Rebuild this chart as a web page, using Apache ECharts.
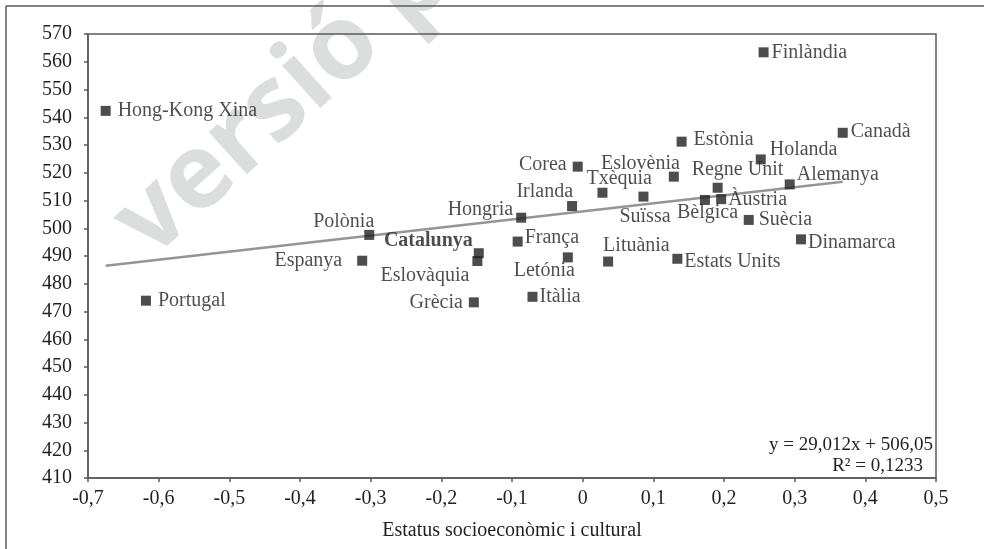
<!DOCTYPE html>
<html><head><meta charset="utf-8">
<script src="https://cdn.jsdelivr.net/npm/echarts@6/dist/echarts.min.js"></script>
<style>html,body{margin:0;padding:0;background:#fff}#c{width:984px;height:549px}</style>
</head><body><div id="c"></div>
<script>
// ---- data ----
const countries = ['Hong-Kong Xina','Portugal','Polònia','Espanya','Catalunya','Eslovàquia','Grècia','Hongria','França','Irlanda','Corea','Letónia','Itàlia','Txèquia','Lituània','Suïssa','Finlàndia','Canadà','Estònia','Holanda','Eslovènia','Regne Unit','Alemanya','Bèlgica','Àustria','Suècia','Dinamarca','Estats Units'];
const statusESCS = [-0.675,-0.618,-0.302,-0.312,-0.147,-0.149,-0.154,-0.087,-0.092,-0.015,-0.007,-0.021,-0.071,0.028,0.036,0.086,0.256,0.368,0.140,0.252,0.129,0.191,0.293,0.173,0.196,0.235,0.309,0.134];
const scores = [542.3,473.9,497.6,488.3,491.0,488.2,473.3,503.8,495.2,508.0,522.2,489.5,475.3,512.8,488.0,511.4,563.4,534.4,531.2,524.8,518.6,514.6,515.8,510.2,510.5,503.0,496.0,489.0];
const trendSlope = 29.012;
const trendIntercept = 506.05;
const trendR2 = 0.1233;
const xAxisTitle = 'Estatus socioeconòmic i cultural';

// ---- label placement (style) : [dx, dy, align] relative to marker centre ----
const labelPlace = {
 'Hong-Kong Xina':[12,0,'left'], 'Portugal':[12,0,'left'], 'Polònia':[5,-13,'right'],
 'Espanya':[-20,0,'right'], 'Catalunya':[-6,-12,'right'], 'Eslovàquia':[-8,15,'right'],
 'Grècia':[-11,0,'right'], 'Hongria':[-8,-8,'right'], 'França':[7,-4,'left'],
 'Irlanda':[1,-14,'right'], 'Corea':[-11,-2,'right'], 'Letónia':[7,13,'right'],
 'Itàlia':[7,0,'left'], 'Txèquia':[-16,-14,'left'], 'Lituània':[-5,-16,'left'],
 'Suïssa':[-24,20,'left'], 'Finlàndia':[8,0,'left'], 'Canadà':[8,-1,'left'],
 'Estònia':[12,-2,'left'], 'Holanda':[9,-10,'left'], 'Eslovènia':[6,-13,'right'],
 'Regne Unit':[-26,-18,'left'], 'Alemanya':[7,-10,'left'], 'Bèlgica':[-28,13,'left'],
 'Àustria':[7,1,'left'], 'Suècia':[10,0,'left'], 'Dinamarca':[7,3,'left'], 'Estats Units':[7,3,'left']
};

const FONT = 'Liberation Serif';
const TXT = '#231f20';
const AX = '#58595b';

const fmt = v => { const r = Math.round(v*10)/10; return (r === 0 ? '0' : String(r)).replace('.', ','); };
function fmt3(v){ return v.toFixed(3).replace('.', ','); }

const points = countries.map((n,i) => {
  const p = labelPlace[n] || [8,0,'left'];
  return {
    name: n,
    value: [statusESCS[i], scores[i]],
    label: { show: true, position: [5 + p[0], 5 + p[1]], align: p[2], verticalAlign: 'middle',
             formatter: n, fontFamily: FONT, fontSize: 20, color: TXT,
             fontWeight: n === 'Catalunya' ? 'bold' : 'normal' }
  };
});

const xMin = Math.min(...statusESCS), xMax = Math.max(...statusESCS);
const trend = [[xMin, trendSlope*xMin + trendIntercept], [xMax, trendSlope*xMax + trendIntercept]];

const chart = echarts.init(document.getElementById('c'), null, {renderer:'canvas'});
chart.setOption({
  animation: false,
  backgroundColor: '#fff',
  grid: { left: 88, right: 48, top: 34, bottom: 71, show: true, borderColor: AX, borderWidth: 1.5, containLabel: false },
  xAxis: {
    type: 'value', min: -0.7, max: 0.5, interval: 0.1,
    axisLine: { show: true, onZero: false, lineStyle: { color: AX, width: 1.5 } },
    axisTick: { show: true, length: 4, lineStyle: { color: AX, width: 1.5 } },
    splitLine: { show: false },
    axisLabel: { formatter: fmt, fontFamily: FONT, fontSize: 20, color: TXT, margin: 11 },
    name: xAxisTitle, nameLocation: 'middle', nameGap: 43,
    nameTextStyle: { fontFamily: FONT, fontSize: 20, color: TXT }
  },
  yAxis: {
    type: 'value', min: 410, max: 570, interval: 10,
    axisLine: { show: true, onZero: false, lineStyle: { color: AX, width: 1.5 } },
    axisTick: { show: true, length: 4, lineStyle: { color: AX, width: 1.5 } },
    splitLine: { show: false },
    axisLabel: { fontFamily: FONT, fontSize: 20, color: TXT, margin: 16 }
  },
  series: [
    { type: 'line', data: trend, showSymbol: false, silent: true, z: 2,
      lineStyle: { color: '#939598', width: 2.5 } },
    { type: 'scatter', data: points, symbol: 'rect', symbolSize: 10, z: 3,
      itemStyle: { color: TXT }, emphasis: { disabled: true } }
  ],
  graphic: [
    { type: 'text', z: -10, x: 166, y: 277, rotation: 42*Math.PI/180,
      style: { text: 'versió p', font: 'bold 104px "Open Sans"', fill: '#dcdddd', align: 'left', verticalAlign: 'bottom' } },
    { type: 'line', shape: { x1: 6, y1: 6, x2: 984, y2: 6 }, style: { stroke: AX, lineWidth: 1.5 } },
    { type: 'line', shape: { x1: 6, y1: 6, x2: 6, y2: 549 }, style: { stroke: AX, lineWidth: 1.5 } },
    { type: 'text', x: 933, y: 445, style: { text: 'y = ' + fmt3(trendSlope) + 'x + ' + String(trendIntercept).replace('.', ','),
      font: '19px "Liberation Serif"', fill: TXT, align: 'right', verticalAlign: 'middle' } },
    { type: 'text', x: 923, y: 466, style: { text: 'R² = ' + String(trendR2).replace('.', ','),
      font: '19px "Liberation Serif"', fill: TXT, align: 'right', verticalAlign: 'middle' } }
  ]
});
</script></body></html>
